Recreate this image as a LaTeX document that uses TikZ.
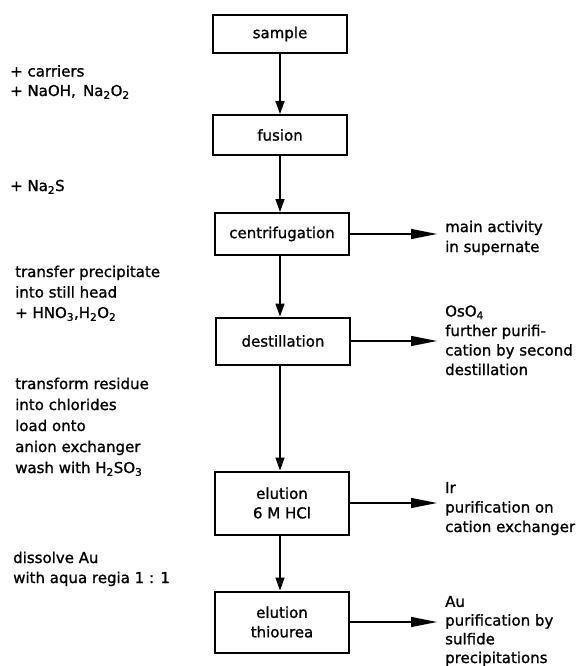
\documentclass[tikz,border=0pt]{standalone}
\usepackage{fontspec}
\setmainfont[FakeBold=1.2]{DejaVu Sans}
\usetikzlibrary{arrows.meta,calc,positioning}

\begin{document}
\begin{tikzpicture}
    [x=1pt, y=-1pt, font=\fontsize{15}{19.5}\selectfont,
    stage/.style={rectangle, draw, line width=2pt, minimum width=134pt,
    align=center, inner sep=2pt},
    note/.style={anchor=base west, align=left, inner sep=0pt},
    flow/.style={line width=1.6pt, -{Triangle[length=13pt,width=9pt]}},
    yield/.style={line width=1.2pt, shorten >=8pt, -{Triangle[length=26pt,width=10pt]}}]

  \useasboundingbox (0,0) rectangle (579,666);

  % process steps
  \node[stage,minimum height=38pt] (A) at (280,34) {sample};
  \node[stage,minimum height=40pt] (B) at (280,135) {fusion};
  \node[stage,minimum height=42pt] (C) at (282,234) {centrifugation};
  \node[stage,minimum height=47pt] (D) at (283,341) {destillation};
  \node[stage,minimum height=63pt] (E) at (282,503) {elution\\6 M HCl};
  \node[stage,minimum height=61pt] (F) at (282,622) {elution\\thiourea};

  % reagents (placed at the baseline of their last line)
  \node[note] (p1) at (10,96) {+ carriers\\+ NaOH,\, Na\textsubscript{2}O\textsubscript{2}};
  \node[note] (p2) at (10,191) {+ Na\textsubscript{2}S};
  \node[note,font=\fontsize{15}{20.5}\selectfont] (p3) at (15,318) {transfer precipitate\\into still head\\+ HNO\textsubscript{3},H\textsubscript{2}O\textsubscript{2}};
  \node[note,font=\fontsize{15}{21}\selectfont] (p4) at (15,473) {transform residue\\into chlorides\\load onto\\anion exchanger\\wash with H\textsubscript{2}SO\textsubscript{3}};
  \node[note,font=\fontsize{15}{20}\selectfont] (p5) at (13,583) {dissolve Au\\with aqua regia 1 : 1};

  % fractions
  \node[note,font=\fontsize{15}{20}\selectfont] (r1) at (445,252) {main activity\\in supernate};
  \node[note] (r2) at (445,375) {OsO\textsubscript{4}\\further purifi-\\cation by second\\destillation};
  \node[note] (r3) at (445,532) {Ir\\purification on\\cation exchanger};
  \node[note,font=\fontsize{15}{18.7}\selectfont] (r4) at (445,663) {Au\\purification by\\sulfide\\precipitations};

  \draw[flow] (A) -- (B);
  \draw[flow] (B) -- (B |- C.north);
  \draw[flow] (C.south -| A) -- (A |- D.north);
  \draw[flow] (D.south -| A) -- (A |- E.north);
  \draw[flow] (E.south -| A) -- (A |- F.north);

  \draw[yield] (C) -- (C -| r1.west);
  \draw[yield] (D) -- (D -| r2.west);
  \draw[yield] (E) -- (E -| r3.west);
  \draw[yield] (F) -- (F -| r4.west);

\end{tikzpicture}
\end{document}
